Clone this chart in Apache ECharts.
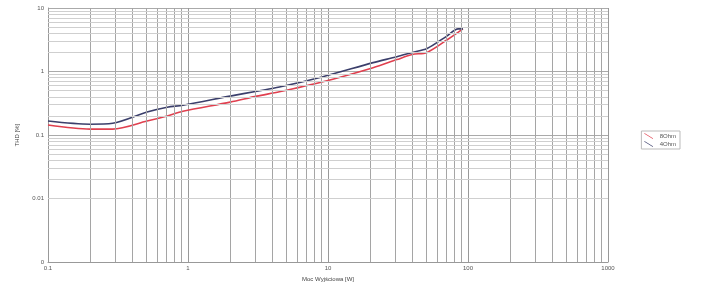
<!DOCTYPE html>
<html><head><meta charset="utf-8">
<script src="https://cdn.jsdelivr.net/npm/echarts@6/dist/echarts.min.js"></script>
<style>html,body{margin:0;padding:0;background:#fff}#c{width:705px;height:287px}</style>
</head><body><div id="c"></div>
<script>
// Data
const power8 = [0.1, 0.2, 0.29, 0.51, 0.71, 0.92, 2, 3.1, 4.5, 9.2, 21, 31, 40, 51, 71, 92];
const thd8   = [0.144, 0.124, 0.124, 0.166, 0.2, 0.237, 0.33, 0.41, 0.48, 0.69, 1.15, 1.54, 1.85, 2.0, 3.16, 4.7];
const power4 = [0.1, 0.2, 0.29, 0.51, 0.71, 0.92, 2, 3.1, 4.5, 9.2, 21, 31, 40, 51, 71, 85, 92];
const thd4   = [0.166, 0.148, 0.153, 0.23, 0.274, 0.295, 0.41, 0.49, 0.57, 0.83, 1.38, 1.71, 2.0, 2.3, 3.65, 4.7, 4.7];
const xTicks = [0.1, 1, 10, 100, 1000];
const yTicks = [0.001, 0.01, 0.1, 1, 10];
const yTickLabels = ['0', '0.01', '0.1', '1', '10'];

function gridValues(lo, hi) {
  const out = [];
  for (let d = Math.log10(lo); d < Math.log10(hi); d++) {
    for (let k = 2; k <= 9; k++) out.push(+(k * Math.pow(10, d)).toPrecision(3));
  }
  return out;
}
const xMinor = gridValues(0.1, 1000);
const yMinor = gridValues(0.001, 10);

const chart = echarts.init(document.getElementById('c'));
chart.setOption({
  animation: false,
  grid: {left: 48, right: 97, top: 8, bottom: 23},
  legend: {
    right: 25, top: 131, orient: 'vertical',
    borderColor: '#bbb', borderWidth: 1, padding: [2, 4, 2, 3],
    itemWidth: 12, itemHeight: 6, itemGap: 2,
    icon: 'path://M0,0 L10,6 L10,7 L0,1 Z',
    textStyle: {fontSize: 6, color: '#555', fontFamily: 'Liberation Sans'},
    data: ['8Ohm', '4Ohm']
  },
  xAxis: {
    type: 'log', min: 0.1, max: 1000, logBase: 10,
    name: 'Moc Wyjściowa [W]', nameLocation: 'middle', nameGap: 11,
    nameTextStyle: {fontSize: 6, color: '#444', fontFamily: 'Liberation Sans'},
    axisLine: {lineStyle: {color: '#999'}},
    axisTick: {show: false},
    axisLabel: {fontSize: 6, color: '#555', margin: 3,
      formatter: v => String(+v.toPrecision(3))},
    splitLine: {show: true, lineStyle: {color: '#999', width: 1}}
  },
  yAxis: {
    type: 'log', min: 0.001, max: 10, logBase: 10,
    name: 'THD [%]', nameLocation: 'middle', nameGap: 28, nameRotate: 90,
    nameTextStyle: {fontSize: 6, color: '#444', fontFamily: 'Liberation Sans'},
    axisLine: {show: true, lineStyle: {color: '#999'}},
    axisTick: {show: false},
    axisLabel: {fontSize: 6, color: '#555', margin: 4,
      formatter: v => { const i = yTicks.findIndex(t => Math.abs(t - v) / t < 1e-6); return i >= 0 ? yTickLabels[i] : ''; }},
    splitLine: {show: true, lineStyle: {color: '#aaa', width: 1}}
  },
  series: [
    {
      name: 'grid', type: 'line', data: [], silent: true,
      markLine: {
        silent: true, symbol: 'none', label: {show: false},
        animation: false,
        data: xMinor.map(v => ({xAxis: v, lineStyle: {color: '#a5a5a5', width: 1, type: 'solid'}}))
          .concat(yMinor.map(v => ({yAxis: v, lineStyle: {color: '#cfcfcf', width: 1, type: 'solid'}})))
      }
    },
    {
      name: '8Ohm', type: 'line', smooth: 0.3, symbol: 'none',
      data: power8.map((p, i) => [p, thd8[i]]),
      lineStyle: {color: '#e0404f', width: 1.6},
      itemStyle: {color: '#e0404f'}, z: 3
    },
    {
      name: '4Ohm', type: 'line', smooth: 0.3, symbol: 'none',
      data: power4.map((p, i) => [p, thd4[i]]),
      lineStyle: {color: '#3b3f6b', width: 1.6},
      itemStyle: {color: '#3b3f6b'}, z: 4
    }
  ]
});
</script></body></html>
